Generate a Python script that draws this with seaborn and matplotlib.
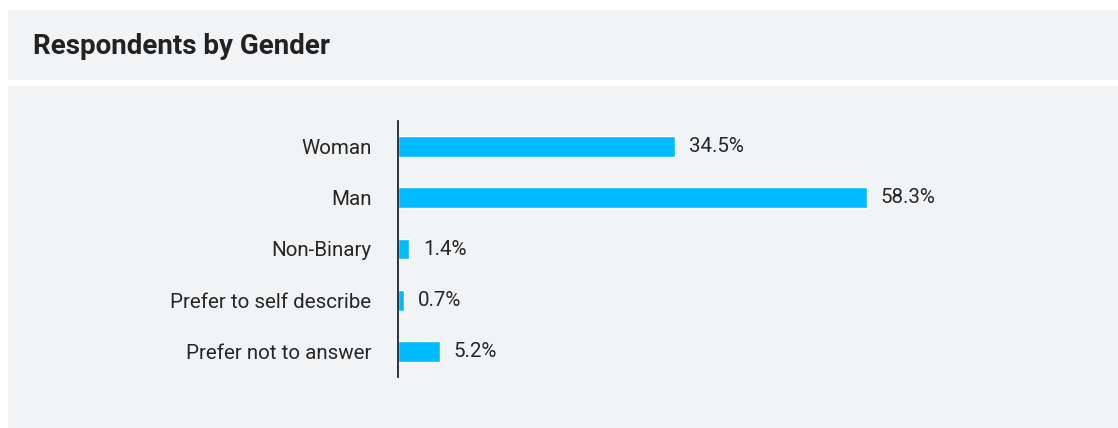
import seaborn as sns
import pandas as pd
import matplotlib.pyplot as plt
from matplotlib.patches import Rectangle

categories = ['Woman', 'Man', 'Non-Binary', 'Prefer to self describe', 'Prefer not to answer']
shares = [34.5, 58.3, 1.4, 0.7, 5.2]

df = pd.DataFrame({'Gender': categories, 'Share': shares})

sns.set_theme(style='white')
plt.rcParams['font.family'] = ['Roboto', 'DejaVu Sans']

W, H = 1118, 428
fig = plt.figure(figsize=(W / 100, H / 100), dpi=100)
fig.patch.set_facecolor('white')

panel = '#F2F3F5'
# header panel and body panel (behind the axes)
fig.patches.append(Rectangle((8 / W, 1 - 80 / H), 1, 70 / H, transform=fig.transFigure,
                             facecolor=panel, edgecolor='none', zorder=-5))
fig.patches.append(Rectangle((8 / W, 0), 1, 1 - 86 / H, transform=fig.transFigure,
                             facecolor=panel, edgecolor='none', zorder=-5))
fig.text(33 / W, 1 - 47 / H, 'Respondents by Gender', fontsize=20, fontweight='bold',
         color='#222222', va='center', ha='left')

ax = fig.add_axes([398 / W, 1 - 377 / H, 603 / W, 256 / H])
ax.set_facecolor('none')
sns.barplot(data=df, x='Share', y='Gender', color='#00BBFF', width=0.41,
            saturation=1, ax=ax, errorbar=None)

ax.set_xlim(0, 75)
ax.set_ylim(4.5, -0.5)
for s in ['top', 'right', 'bottom']:
    ax.spines[s].set_visible(False)
ax.spines['left'].set_color('#111111')
ax.spines['left'].set_linewidth(1.2)
ax.set_xticks([])
ax.set_xlabel('')
ax.set_ylabel('')
ax.tick_params(axis='y', length=0, pad=19, labelsize=14.8, labelcolor='#262626')

for i, v in enumerate(shares):
    ax.annotate(f'{v}%', (v, i), xytext=(10, 0), textcoords='offset points',
                va='center', ha='left', fontsize=14.8, color='#262626')

fig.savefig('out.png', dpi=100, facecolor=fig.get_facecolor())
